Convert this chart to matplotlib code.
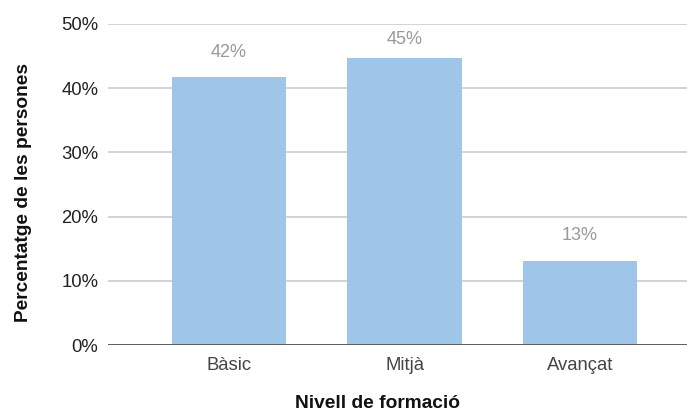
import matplotlib
matplotlib.use("Agg")
import matplotlib.pyplot as plt
from matplotlib.ticker import FuncFormatter

categories = ["Bàsic", "Mitjà", "Avançat"]
values = [41.7, 44.7, 13.1]
labels = ["42%", "45%", "13%"]
yticks = [0, 10, 20, 30, 40, 50]

plt.rcParams['font.family'] = ['Liberation Sans', 'DejaVu Sans']

fig = plt.figure(figsize=(6.87, 4.12), dpi=100)
W, H = 687, 412
ax = fig.add_axes([108 / W, (H - 345) / H, (687 - 108) / W, (345 - 24) / H])

x = list(range(len(categories)))
ax.bar(x, values, width=0.65, color="#9fc5e8", zorder=3)
for xi, v, lab in zip(x, values, labels):
    ax.text(xi, min(v + 3.9, 47.6), lab, ha="center", va="center", fontsize=13, color="#999999")

ax.set_ylim(0, 50)
ax.set_xlim(-0.69, 2.61)
ax.set_yticks(yticks)
ax.yaxis.set_major_formatter(FuncFormatter(lambda v, p: f"{int(v)}%"))
ax.set_xticks(x)
ax.set_xticklabels(categories)
ax.tick_params(axis="both", length=0, labelsize=13.3)
ax.tick_params(axis="x", colors="#444444", pad=9)
ax.tick_params(axis="y", labelcolor="#222222", pad=7)
ax.yaxis.grid(True, color="#cccccc", linewidth=1.2, zorder=0)
for s in ax.spines.values():
    s.set_visible(False)
ax.axhline(0, color="#555555", linewidth=1.3, zorder=5)

fig.text(24 / W, (H - 192) / H, "Percentatge de les persones", rotation=90, ha="center", va="center",
         fontsize=13.8, fontweight="bold", color="#111111")
fig.text(378 / W, (H - 403) / H, "Nivell de formació", ha="center", va="center",
         fontsize=13.8, fontweight="bold", color="#111111")

fig.savefig("out.png", dpi=100)
